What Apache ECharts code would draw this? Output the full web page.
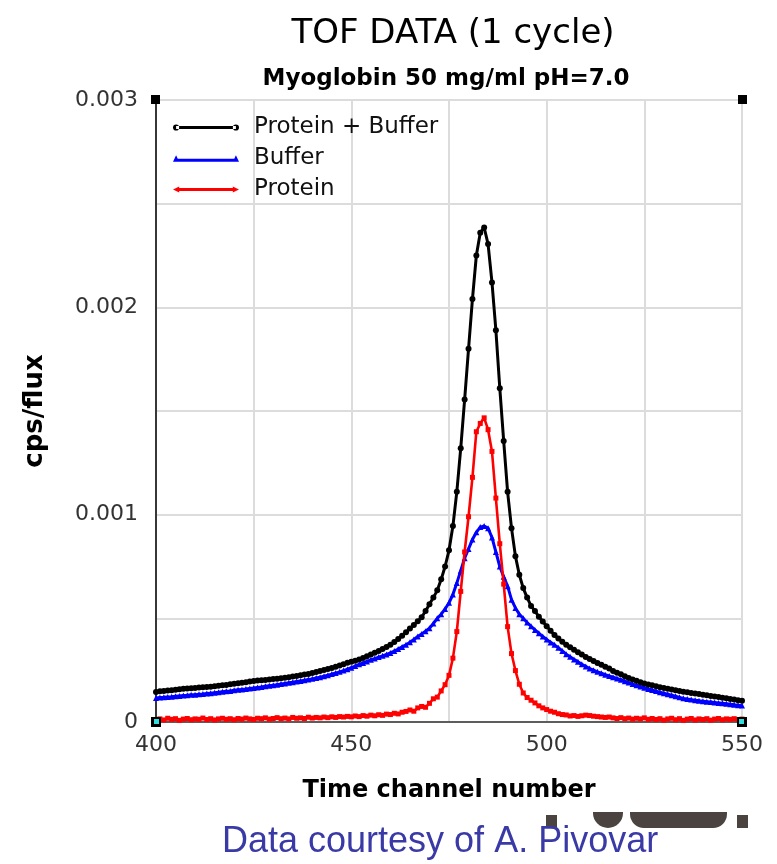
<!DOCTYPE html>
<html>
<head>
<meta charset="utf-8">
<script src="https://cdn.jsdelivr.net/npm/echarts@6/dist/echarts.min.js"></script>
<style>
html,body{margin:0;padding:0;background:#fff;}
#chart{width:777px;height:864px;}
</style>
</head>
<body>
<div id="chart"></div>
<script>
// Time channel numbers (x categories): 400 .. 550, one per channel
var firstChannel = 400;
var lastChannel = 550;

var xTickLabels = ['400', '450', '500', '550'];
var yTickLabels = ['0', '0.001', '0.002', '0.003'];

// Protein + Buffer (black), channels 400..550
var proteinBuffer = [
0.000145,0.000148,0.000150,0.000152,0.000153,0.000156,0.000158,0.000160,0.000161,0.000163,
0.000164,0.000166,0.000168,0.000169,0.000170,0.000172,0.000175,0.000177,0.000179,0.000182,
0.000184,0.000187,0.000189,0.000192,0.000195,0.000198,0.000200,0.000201,0.000203,0.000205,
0.000207,0.000209,0.000211,0.000213,0.000216,0.000219,0.000222,0.000225,0.000229,0.000232,
0.000236,0.000241,0.000246,0.000251,0.000256,0.000261,0.000266,0.000272,0.000279,0.000286,
0.000291,0.000296,0.000301,0.000309,0.000317,0.000326,0.000334,0.000342,0.000352,0.000362,
0.000373,0.000386,0.000400,0.000416,0.000433,0.000451,0.000468,0.000486,0.000505,0.000535,
0.000568,0.000600,0.000635,0.000688,0.000750,0.000828,0.000945,0.001110,0.001320,0.001555,
0.001800,0.002040,0.002250,0.002360,0.002385,0.002305,0.002120,0.001890,0.001610,0.001355,
0.001110,0.000935,0.000800,0.000710,0.000646,0.000600,0.000560,0.000535,0.000508,0.000485,
0.000462,0.000440,0.000420,0.000403,0.000387,0.000372,0.000360,0.000348,0.000336,0.000325,
0.000314,0.000304,0.000294,0.000284,0.000276,0.000267,0.000258,0.000246,0.000238,0.000230,
0.000221,0.000212,0.000205,0.000199,0.000192,0.000186,0.000181,0.000177,0.000173,0.000168,
0.000164,0.000160,0.000157,0.000153,0.000150,0.000146,0.000143,0.000140,0.000138,0.000135,
0.000132,0.000129,0.000126,0.000123,0.000120,0.000117,0.000114,0.000111,0.000108,0.000105,
0.000102
];

// Buffer (blue), channels 400..550
var buffer = [
0.000116,0.000118,0.000119,0.000121,0.000122,0.000124,0.000126,0.000128,0.000129,0.000131,
0.000132,0.000134,0.000135,0.000137,0.000139,0.000141,0.000143,0.000146,0.000148,0.000150,
0.000153,0.000155,0.000157,0.000159,0.000162,0.000164,0.000167,0.000169,0.000172,0.000175,
0.000177,0.000180,0.000183,0.000186,0.000189,0.000192,0.000195,0.000198,0.000201,0.000205,
0.000208,0.000212,0.000216,0.000221,0.000226,0.000231,0.000236,0.000242,0.000248,0.000255,
0.000262,0.000270,0.000278,0.000285,0.000292,0.000300,0.000306,0.000313,0.000319,0.000326,
0.000333,0.000342,0.000352,0.000362,0.000372,0.000385,0.000398,0.000412,0.000425,0.000438,
0.000452,0.000475,0.000500,0.000520,0.000545,0.000575,0.000615,0.000670,0.000730,0.000790,
0.000835,0.000880,0.000915,0.000940,0.000945,0.000935,0.000890,0.000820,0.000750,0.000700,
0.000655,0.000590,0.000550,0.000520,0.000500,0.000480,0.000462,0.000444,0.000428,0.000412,
0.000398,0.000384,0.000372,0.000358,0.000343,0.000327,0.000315,0.000302,0.000290,0.000278,
0.000268,0.000258,0.000250,0.000242,0.000235,0.000228,0.000222,0.000216,0.000210,0.000204,
0.000197,0.000190,0.000183,0.000177,0.000171,0.000165,0.000159,0.000154,0.000149,0.000144,
0.000139,0.000134,0.000129,0.000124,0.000119,0.000114,0.000111,0.000108,0.000105,0.000102,
0.000100,0.000098,0.000096,0.000094,0.000092,0.000090,0.000088,0.000086,0.000083,0.000081,
0.000079
];

// Protein (red), channels 400..550
var protein = [
0.000012,0.000015,0.000010,0.000018,0.000013,0.000016,0.000008,0.000014,0.000017,0.000011,
0.000015,0.000013,0.000019,0.000012,0.000016,0.000010,0.000015,0.000018,0.000013,0.000016,
0.000011,0.000017,0.000014,0.000019,0.000015,0.000012,0.000018,0.000016,0.000020,0.000014,
0.000017,0.000021,0.000016,0.000019,0.000015,0.000022,0.000018,0.000020,0.000017,0.000023,
0.000019,0.000022,0.000020,0.000024,0.000021,0.000025,0.000022,0.000026,0.000024,0.000027,
0.000025,0.000029,0.000026,0.000031,0.000028,0.000033,0.000030,0.000035,0.000032,0.000038,
0.000036,0.000042,0.000039,0.000047,0.000051,0.000058,0.000052,0.000068,0.000075,0.000071,
0.000090,0.000112,0.000120,0.000150,0.000180,0.000225,0.000308,0.000436,0.000630,0.000820,
0.000990,0.001180,0.001400,0.001440,0.001467,0.001410,0.001305,0.001080,0.000860,0.000665,
0.000460,0.000330,0.000248,0.000182,0.000140,0.000118,0.000105,0.000092,0.000078,0.000068,
0.000060,0.000052,0.000047,0.000040,0.000036,0.000034,0.000029,0.000031,0.000027,0.000030,
0.000033,0.000031,0.000028,0.000026,0.000024,0.000022,0.000024,0.000020,0.000017,0.000021,
0.000016,0.000019,0.000014,0.000018,0.000015,0.000020,0.000013,0.000017,0.000012,0.000016,
0.000009,0.000015,0.000018,0.000011,0.000016,0.000008,0.000014,0.000017,0.000010,0.000015,
0.000012,0.000016,0.000009,0.000014,0.000017,0.000011,0.000015,0.000013,0.000016,0.000012,
0.000014
];

var channels = [];
for (var c = firstChannel; c <= lastChannel; c++) channels.push(c);

function pairs(vals) {
  return channels.map(function (ch, i) { return [ch, vals[i]]; });
}

var chart = echarts.init(document.getElementById('chart'), null, {renderer: 'canvas'});

var FONT = 'DejaVu Sans';

var option = {
  backgroundColor: '#ffffff',
  animation: false,
  title: [
    {
      text: 'TOF DATA (1 cycle)',
      left: 448, top: 12, textAlign: 'center',
      textStyle: {fontFamily: FONT, fontSize: 34, fontWeight: 'normal', color: '#000'}
    },
    {
      text: 'Myoglobin 50 mg/ml pH=7.0',
      left: 441, top: 63, textAlign: 'center',
      textStyle: {fontFamily: FONT, fontSize: 23, fontWeight: 'bold', color: '#000'}
    }
  ],
  legend: {
    orient: 'vertical',
    left: 168, top: 111,
    itemWidth: 66, itemHeight: 8, itemGap: 8,
    textStyle: {fontFamily: FONT, fontSize: 23, color: '#111', padding: [0, 0, 0, 10]},
    data: [
      {name: 'Protein + Buffer', icon: 'path://M3,3.5 L61,3.5 L61,6.5 L3,6.5 Z M0,5 A3,3 0 1,0 6,5 A3,3 0 1,0 0,5 Z M58,5 A3,3 0 1,0 64,5 A3,3 0 1,0 58,5 Z'},
      {name: 'Buffer', icon: 'path://M3,5.5 L61,5.5 L61,8.5 L3,8.5 Z M0,8.5 L3,2 L6,8.5 Z M58,8.5 L61,2 L64,8.5 Z'},
      {name: 'Protein', icon: 'path://M3,5.5 L61,5.5 L61,8.5 L3,8.5 Z M0,7 L6,4 L6,10 Z M58,4 L64,7 L58,10 Z'}
    ]
  },
  grid: {
    left: 156, right: 35, top: 100, bottom: 142,
    show: true, borderColor: '#000', borderWidth: 1.5
  },
  xAxis: {
    type: 'value', min: 400, max: 550, interval: 25,
    name: 'Time channel number', nameLocation: 'middle', nameGap: 57,
    nameTextStyle: {fontFamily: FONT, fontSize: 24, fontWeight: 'bold', color: '#000'},
    axisLine: {show: true, lineStyle: {color: '#333', width: 1.5}},
    axisTick: {show: false},
    splitLine: {show: true, lineStyle: {color: '#dcdcdc', width: 2}},
    axisLabel: {
      fontFamily: FONT, fontSize: 22, color: '#333', margin: 12,
      formatter: function (v) {
        var s = String(Math.round(v));
        return xTickLabels.indexOf(s) >= 0 ? s : '';
      }
    }
  },
  yAxis: {
    type: 'value', min: 0, max: 0.003, interval: 0.0005,
    name: 'cps/flux', nameLocation: 'middle', nameGap: 108, nameRotate: 90,
    nameTextStyle: {fontFamily: FONT, fontSize: 26, fontWeight: 'bold', color: '#000'},
    axisLine: {show: true, lineStyle: {color: '#000', width: 1.5}},
    axisTick: {show: false},
    splitLine: {show: true, lineStyle: {color: '#dcdcdc', width: 2}},
    axisLabel: {
      fontFamily: FONT, fontSize: 22, color: '#333', margin: 18,
      formatter: function (v) {
        var k = Math.round(v * 10000);
        if (k % 10 !== 0) return '';
        var s = k === 0 ? '0' : (k / 10000).toFixed(3);
        return yTickLabels.indexOf(s) >= 0 ? s : '';
      }
    }
  },
  series: [
    {
      name: 'Buffer', type: 'line', data: pairs(buffer), z: 3,
      symbol: 'triangle', symbolSize: 6, showSymbol: true,
      lineStyle: {color: '#0000ff', width: 3},
      itemStyle: {color: '#0000ff'}
    },
    {
      name: 'Protein + Buffer', type: 'line', data: pairs(proteinBuffer), z: 4,
      symbol: 'circle', symbolSize: 6, showSymbol: true,
      lineStyle: {color: '#000000', width: 3},
      itemStyle: {color: '#000000'}
    },
    {
      name: 'Protein', type: 'line', data: pairs(protein), z: 5,
      symbol: 'rect', symbolSize: 5, showSymbol: true,
      lineStyle: {color: '#ff0000', width: 2.6},
      itemStyle: {color: '#ff0000'}
    }
  ],
  graphic: [
    {type: 'rect', shape: {x: 151, y: 95, width: 9, height: 9}, style: {fill: '#000'}, z: 100},
    {type: 'rect', shape: {x: 738, y: 95, width: 9, height: 9}, style: {fill: '#000'}, z: 100},
    {type: 'rect', shape: {x: 151, y: 717, width: 10, height: 10}, style: {fill: '#000'}, z: 100},
    {type: 'rect', shape: {x: 154, y: 719, width: 5, height: 5}, style: {fill: '#33dddd'}, z: 101},
    {type: 'rect', shape: {x: 737, y: 717, width: 10, height: 10}, style: {fill: '#000'}, z: 100},
    {type: 'rect', shape: {x: 739, y: 719, width: 5, height: 5}, style: {fill: '#33dddd'}, z: 101},
    {type: 'rect', shape: {x: 546, y: 815, width: 11, height: 13}, style: {fill: '#4a4340'}},
    {type: 'rect', shape: {x: 593, y: 812, width: 30, height: 16, r: [0, 0, 15, 15]}, style: {fill: '#4a4340'}},
    {type: 'rect', shape: {x: 630, y: 812, width: 97, height: 16, r: [0, 0, 14, 14]}, style: {fill: '#4a4340'}},
    {type: 'rect', shape: {x: 737, y: 815, width: 11, height: 13}, style: {fill: '#4a4340'}},
    {
      type: 'text', left: 222, top: 824,
      style: {text: 'Data courtesy of A. Pivovar', fill: '#3a3aa6', font: '36px "Liberation Sans", Arial, sans-serif'}
    }
  ]
};

chart.setOption(option);
</script>
</body>
</html>
